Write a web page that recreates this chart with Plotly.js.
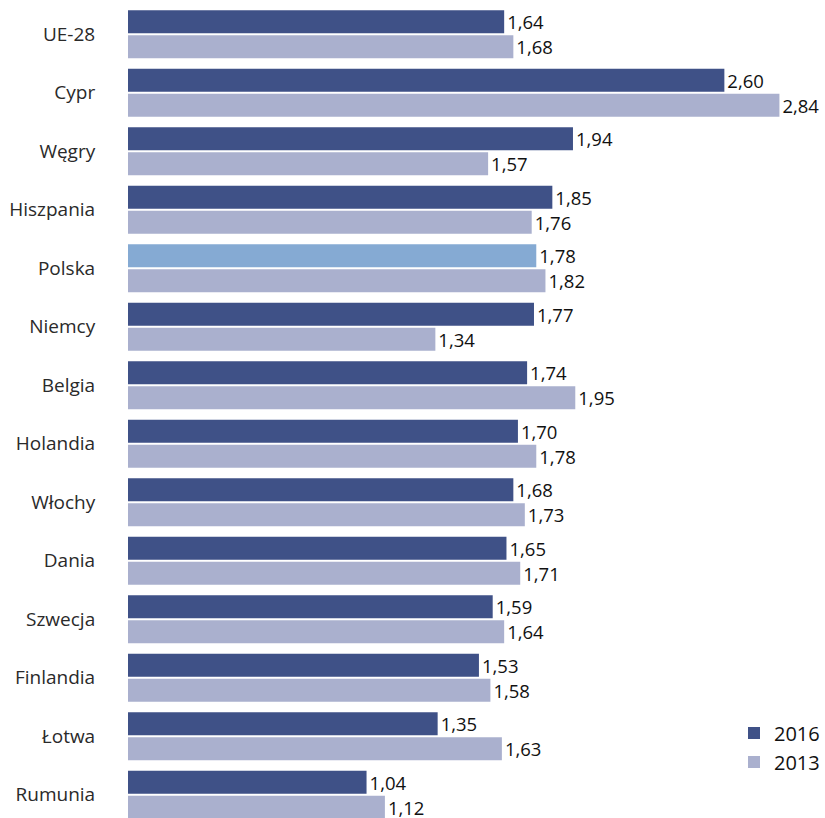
<!DOCTYPE html>
<html>
<head>
<meta charset="utf-8">
<script src="https://cdn.plot.ly/plotly-3.0.1.min.js"></script>
<style>
html,body{margin:0;padding:0;overflow:hidden;background:#fff;}
#chart{width:825px;height:826px;}
</style>
</head>
<body>
<div id="chart"></div>
<script>
const categories = ["UE-28","Cypr","Węgry","Hiszpania","Polska","Niemcy","Belgia","Holandia","Włochy","Dania","Szwecja","Finlandia","Łotwa","Rumunia"];
const values2016 = [1.64,2.60,1.94,1.85,1.78,1.77,1.74,1.70,1.68,1.65,1.59,1.53,1.35,1.04];
const values2013 = [1.68,2.84,1.57,1.76,1.82,1.34,1.95,1.78,1.73,1.71,1.64,1.58,1.63,1.12];
const seriesNames = ["2016","2013"];
const highlight = "Polska";

const dark = "#3F5187";
const light = "#AAB0CE";
const hl = "#85AAD3";

const fmt = v => v.toFixed(2).replace(".", ",");

const traces = [
  {
    type: "bar", orientation: "h", name: seriesNames[0],
    y: categories, x: values2016,
    text: values2016.map(fmt), textposition: "outside", cliponaxis: false, constraintext: "none",
    marker: {color: categories.map(c => c === highlight ? hl : dark)},
    textfont: {color: "#111", size: 18.5, family: "Open Sans, sans-serif"}
  },
  {
    type: "bar", orientation: "h", name: seriesNames[1],
    y: categories, x: values2013,
    text: values2013.map(fmt), textposition: "outside", cliponaxis: false, constraintext: "none",
    marker: {color: light},
    textfont: {color: "#111", size: 18.5, family: "Open Sans, sans-serif"}
  }
];

const layout = {
  width: 825, height: 826,
  margin: {l: 128, r: 0, t: 5, b: 2},
  paper_bgcolor: "#fff", plot_bgcolor: "#fff",
  barmode: "group", bargap: 0.147, bargroupgap: 0.08,
  font: {family: "Open Sans, sans-serif", size: 17, color: "#333"},
  xaxis: {range: [0, 3.03], visible: false, fixedrange: true},
  yaxis: {autorange: "reversed", showgrid: false, zeroline: false, showline: false,
          ticks: "outside", ticklen: 28, tickcolor: "rgba(0,0,0,0)",
          tickfont: {size: 19, color: "#2a2a2a", family: "Open Sans, sans-serif"}},
  showlegend: true,
  legend: {x: 0.872, y: 0.135, xanchor: "left", yanchor: "top", traceorder: "normal",
           font: {size: 20, color: "#111"}, bgcolor: "rgba(0,0,0,0)", itemwidth: 30, tracegroupgap: 0},
  uniformtext: {mode: false}
};

Plotly.newPlot("chart", traces, layout, {displayModeBar: false, staticPlot: true});
</script>
</body>
</html>
